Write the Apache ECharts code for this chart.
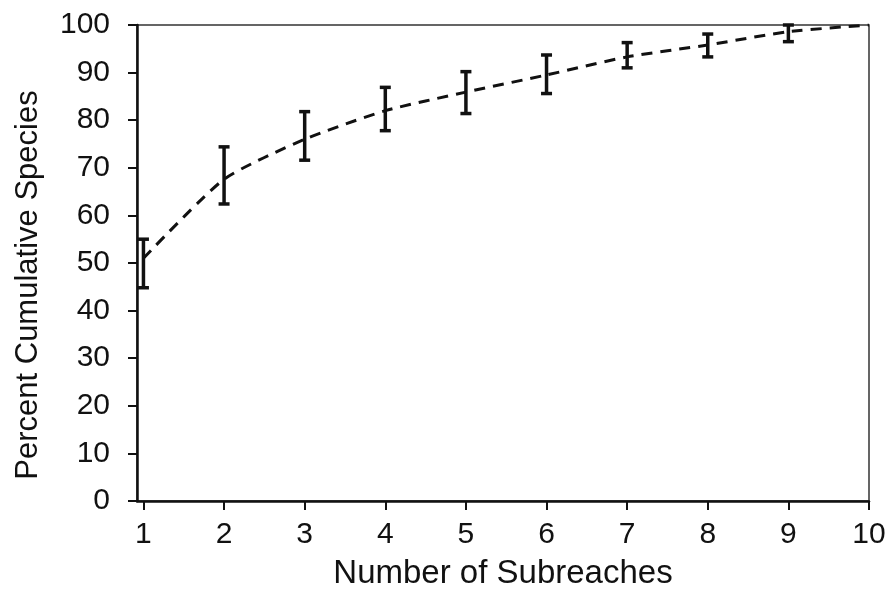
<!DOCTYPE html>
<html>
<head>
<meta charset="utf-8">
<style>
  html, body { margin: 0; padding: 0; background: #fff; }
  #chart { width: 892px; height: 590px; }
</style>
<script src="https://cdn.jsdelivr.net/npm/echarts@6/dist/echarts.min.js"></script>
</head>
<body>
<div id="chart"></div>
<script>
// number of subreaches sampled
var subreaches = [1, 2, 3, 4, 5, 6, 7, 8, 9, 10];
// mean percent cumulative species
var meanPct = [51, 67.6, 76, 82, 85.9, 89.5, 93.3, 95.8, 98.6, 100];
// error bar limits (no bar at 10)
var lowPct = [44.8, 62.4, 71.6, 77.8, 81.4, 85.6, 91, 93.3, 96.5];
var highPct = [55, 74.4, 81.8, 86.9, 90.2, 93.7, 96.3, 98.1, 100];
var xTicks = [1, 2, 3, 4, 5, 6, 7, 8, 9, 10];

var font = '"Liberation Sans", Arial, sans-serif';

var lineData = subreaches.map(function (x, i) { return [x, meanPct[i]]; });
var errData = lowPct.map(function (lo, i) { return [subreaches[i], lo, highPct[i]]; });

var chart = echarts.init(document.getElementById('chart'));

chart.setOption({
  animation: false,
  grid: {
    left: 137,
    right: 23,
    top: 25,
    bottom: 89,
    outerBoundsMode: 'none',
    containLabel: false,
    show: true,
    borderColor: '#333',
    borderWidth: 1.5
  },
  xAxis: {
    type: 'value',
    min: 0.92,
    max: 10,
    name: 'Number of Subreaches',
    nameLocation: 'middle',
    nameGap: 56,
    nameTextStyle: { fontFamily: font, fontSize: 33, color: '#111' },
    axisLine: { lineStyle: { color: '#111', width: 2.5 } },
    axisTick: { customValues: xTicks, length: 9, lineStyle: { color: '#111', width: 2 } },
    axisLabel: {
      customValues: xTicks,
      margin: 19,
      fontFamily: font,
      fontSize: 30,
      color: '#111'
    },
    splitLine: { show: false }
  },
  yAxis: {
    type: 'value',
    min: 0,
    max: 100,
    interval: 10,
    name: 'Percent Cumulative Species',
    nameLocation: 'middle',
    nameGap: 93,
    nameTextStyle: { fontFamily: font, fontSize: 31, color: '#111', padding: [0, 44, 0, 0] },
    axisLine: { show: true, lineStyle: { color: '#111', width: 2.5 } },
    axisTick: { show: true, length: 9, lineStyle: { color: '#111', width: 2 } },
    axisLabel: { margin: 27, fontFamily: font, fontSize: 30, color: '#111' },
    splitLine: { show: false }
  },
  series: [
    {
      type: 'line',
      data: lineData,
      smooth: 0.2,
      symbol: 'none',
      lineStyle: { color: '#111', width: 3, type: [11, 8] },
      z: 2
    },
    {
      type: 'custom',
      data: errData,
      z: 3,
      renderItem: function (params, api) {
        var x = api.value(0);
        var lo = api.coord([x, api.value(1)]);
        var hi = api.coord([x, api.value(2)]);
        var cap = 5.5;
        var style = { stroke: '#111', lineWidth: 3.5 };
        return {
          type: 'group',
          children: [
            { type: 'line', shape: { x1: lo[0], y1: lo[1], x2: hi[0], y2: hi[1] }, style: style },
            { type: 'line', shape: { x1: lo[0] - cap, y1: lo[1], x2: lo[0] + cap, y2: lo[1] }, style: style },
            { type: 'line', shape: { x1: hi[0] - cap, y1: hi[1], x2: hi[0] + cap, y2: hi[1] }, style: style }
          ]
        };
      }
    }
  ]
});
</script>
</body>
</html>
